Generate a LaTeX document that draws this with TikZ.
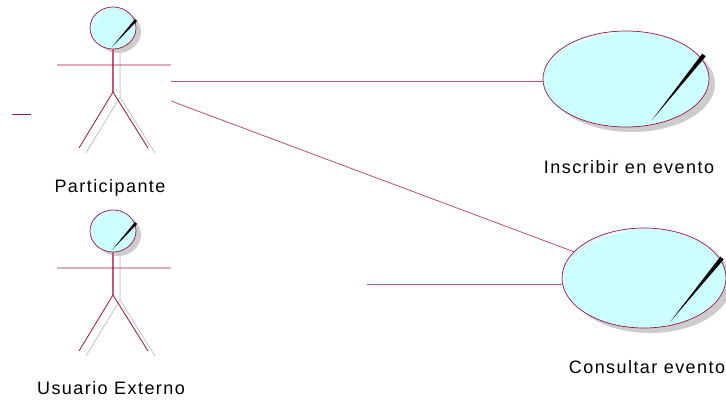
\documentclass[tikz,border=0pt]{standalone}
\usepackage{fontspec}
\newfontfamily\rosefont[LetterSpace=8]{Liberation Sans}
\usetikzlibrary{calc, shapes.geometric, shadows}

\definecolor{rose}{RGB}{160,20,70}
\definecolor{usefill}{RGB}{204,255,255}
\definecolor{shadowgray}{RGB}{204,204,204}

% a thin black needle from (#1) out to (#2)
\newcommand{\needle}[3]{%
  \fill[black] (#1) -- ($(#2)!#3!90:(#1)$) -- ($(#2)!#3!-90:(#1)$) -- cycle;}

\tikzset{
  usecase/.style={ellipse, draw=rose, fill=usefill, line width=0.7pt,
    general shadow={fill=shadowgray, shadow xshift=6pt, shadow yshift=-5pt}},
  assoc/.style={rose!75, line width=0.8pt},
  lbl/.style={font=\rosefont\fontsize{18}{21}\selectfont, anchor=base, inner sep=0pt},
  actor/.pic={
    \fill[shadowgray] (5,4) ellipse [x radius=23pt, y radius=21pt];
    \draw[shadowgray, line width=1pt] (7,22) -- (7,69) -- (-27,125) (7,69) -- (42,125);
    \draw[rose, fill=usefill, line width=0.7pt] (0,0) ellipse [x radius=23pt, y radius=21pt];
    \draw[white, line width=0.6pt] (0,0) ++(165:19pt) arc [start angle=165, end angle=110, x radius=19pt, y radius=17pt];
    \needle{-1,19}{23,-8}{1.4pt}
    \draw[rose!70, line width=1.3pt] (0,21) -- (0,64);
    \draw[rose, line width=0.8pt] (-56,37) -- (58,37)
      (0,64) -- (-34,120) (0,64) -- (35,120);
  }
}

\begin{document}
\begin{tikzpicture}[x=1pt, y=-1pt]
\useasboundingbox (0,0) rectangle (726,401);

% actors
\pic at (113,28) {actor};
\pic at (113,231) {actor};
\node[lbl] (participante) at (110,193) {Participante};
\node[lbl] (usuario) at (111,394) {Usuario Externo};

% use cases
\node[usecase, minimum width=166pt, minimum height=96pt] (inscribir) at (626,79) {};
\node[usecase, minimum width=164pt, minimum height=100pt] (consultar) at (644,278) {};
\draw[white, line width=0.8pt] (inscribir) ++(168:72pt) arc [start angle=168, end angle=100, x radius=74pt, y radius=40pt];
\draw[white, line width=0.8pt] (consultar) ++(168:72pt) arc [start angle=168, end angle=100, x radius=73pt, y radius=42pt];
\needle{652,120}{704,55}{2.2pt}
\needle{670,322}{722,258}{2.2pt}
\node[lbl] (inscribir-lbl) at (629,174) {Inscribir en evento};
\node[lbl] (consultar-lbl) at (647,373) {Consultar evento};

% associations
\coordinate (part-a) at (171,81);
\coordinate (part-b) at (171,101);
\coordinate (loose) at (367,284);
\draw[assoc] (part-a) -- (part-a -| inscribir.west);
\draw[assoc] (part-b) -- (consultar);
\draw[assoc] (loose) -- (loose -| consultar.west);
\draw[rose, line width=0.8pt] (12,114) -- (31,114);
\end{tikzpicture}
\end{document}
